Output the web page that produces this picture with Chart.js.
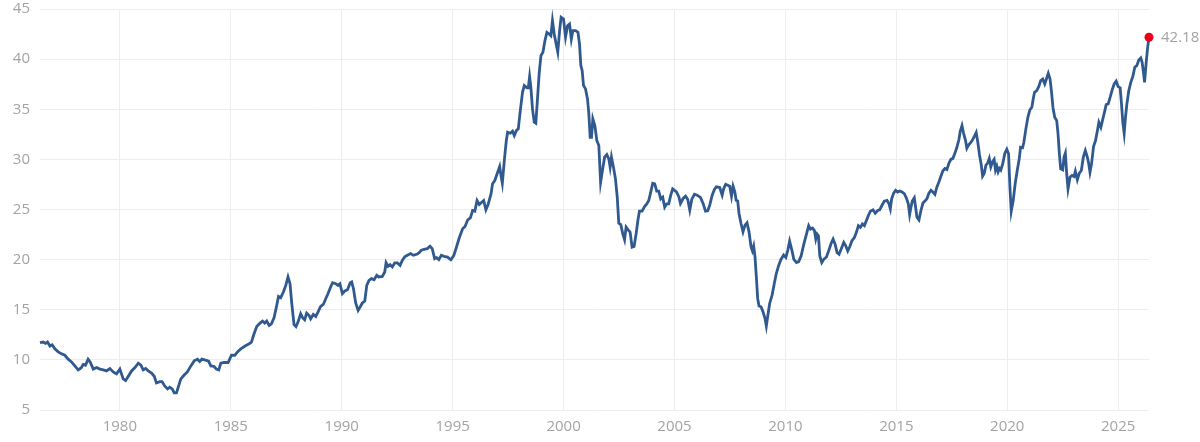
<!DOCTYPE html>
<html>
<head>
<meta charset="utf-8">
<script src="https://cdn.jsdelivr.net/npm/chart.js@4"></script>
<style>
  html, body { margin: 0; padding: 0; background: #fff; overflow: hidden; }
  #wrap { width: 1200px; height: 452px; margin-top: -10px; }
</style>
</head>
<body>
<div id="wrap"><canvas id="myLineChart"></canvas></div>
<script>
// 年（小数）
var years = [
  1976.40, 1976.55, 1976.65, 1976.74, 1976.85, 1976.95, 1977.07, 1977.22, 1977.37, 1977.52,
  1977.67, 1977.82, 1977.97, 1978.12, 1978.25, 1978.35, 1978.45, 1978.57, 1978.66, 1978.80,
  1978.95, 1979.10, 1979.25, 1979.40, 1979.55, 1979.70, 1979.85, 1980.00, 1980.15, 1980.26,
  1980.38, 1980.53, 1980.68, 1980.83, 1980.95, 1981.05, 1981.16, 1981.28, 1981.43, 1981.55,
  1981.65, 1981.80, 1981.90, 1982.03, 1982.15, 1982.25, 1982.36, 1982.45, 1982.55, 1982.63,
  1982.75, 1982.90, 1983.05, 1983.20, 1983.35, 1983.50, 1983.60, 1983.70, 1983.86, 1984.00,
  1984.10, 1984.25, 1984.35, 1984.46, 1984.55, 1984.70, 1984.88, 1985.03, 1985.18, 1985.30,
  1985.45, 1985.68, 1985.83, 1985.93, 1986.05, 1986.17, 1986.32, 1986.43, 1986.53, 1986.62,
  1986.73, 1986.83, 1986.95, 1987.07, 1987.15, 1987.25, 1987.37, 1987.48, 1987.58, 1987.67,
  1987.75, 1987.85, 1987.94, 1988.03, 1988.15, 1988.24, 1988.33, 1988.42, 1988.53, 1988.60,
  1988.72, 1988.83, 1988.93, 1989.05, 1989.17, 1989.28, 1989.38, 1989.50, 1989.59, 1989.73,
  1989.83, 1989.92, 1990.03, 1990.14, 1990.26, 1990.38, 1990.45, 1990.53, 1990.63, 1990.74,
  1990.83, 1990.93, 1991.04, 1991.13, 1991.23, 1991.34, 1991.46, 1991.58, 1991.68, 1991.83,
  1991.94, 1992.00, 1992.09, 1992.18, 1992.28, 1992.39, 1992.51, 1992.63, 1992.73, 1992.84,
  1992.96, 1993.11, 1993.23, 1993.38, 1993.48, 1993.59, 1993.71, 1993.86, 1993.98, 1994.08,
  1994.19, 1994.28, 1994.38, 1994.49, 1994.61, 1994.77, 1994.92,
  1995.05, 1995.15, 1995.30, 1995.45, 1995.56, 1995.68, 1995.80, 1995.90, 1996.00, 1996.10,
  1996.20, 1996.31, 1996.40, 1996.50, 1996.60, 1996.73, 1996.80, 1996.90, 1997.03, 1997.12,
  1997.18, 1997.24, 1997.33, 1997.42, 1997.48, 1997.60, 1997.70, 1997.78, 1997.87, 1997.96,
  1998.05, 1998.15, 1998.23, 1998.35, 1998.41, 1998.47, 1998.53, 1998.60, 1998.68, 1998.75,
  1998.83, 1998.90, 1998.98, 1999.07, 1999.16, 1999.25, 1999.35, 1999.43, 1999.50, 1999.58,
  1999.65, 1999.74, 1999.82, 1999.89,
  2000.00, 2000.09, 2000.18, 2000.27, 2000.35, 2000.42, 2000.54, 2000.65, 2000.72, 2000.78,
  2000.84, 2000.90, 2000.99, 2001.08, 2001.14, 2001.20, 2001.26, 2001.32, 2001.41, 2001.50,
  2001.59, 2001.67, 2001.74, 2001.85, 2001.95, 2002.04, 2002.10, 2002.16, 2002.25, 2002.34,
  2002.42, 2002.49, 2002.58, 2002.67, 2002.75, 2002.82, 2002.91, 2003.00, 2003.09, 2003.18,
  2003.27, 2003.35, 2003.42, 2003.54, 2003.65, 2003.75, 2003.84, 2003.93, 2004.02, 2004.11,
  2004.20, 2004.29, 2004.38, 2004.47, 2004.56, 2004.65, 2004.74, 2004.83, 2004.92,
  2005.09, 2005.20, 2005.27, 2005.39, 2005.50, 2005.60, 2005.69, 2005.78, 2005.90, 2006.02,
  2006.17, 2006.29, 2006.40, 2006.50, 2006.59, 2006.70, 2006.80, 2006.89, 2007.04, 2007.15,
  2007.22, 2007.31, 2007.40, 2007.49, 2007.57, 2007.64, 2007.72, 2007.78, 2007.85, 2007.91,
  2008.00, 2008.09, 2008.18, 2008.27, 2008.36, 2008.45, 2008.51, 2008.57, 2008.63, 2008.69,
  2008.75, 2008.81, 2008.90, 2008.99, 2009.08, 2009.14, 2009.20, 2009.29, 2009.40, 2009.50,
  2009.59, 2009.70, 2009.80, 2009.92, 2010.02, 2010.11, 2010.19,
  2010.30, 2010.38, 2010.50, 2010.60, 2010.71, 2010.83, 2010.95, 2011.05, 2011.13, 2011.22,
  2011.31, 2011.37, 2011.43, 2011.49, 2011.55, 2011.64, 2011.73, 2011.85, 2011.95, 2012.06,
  2012.15, 2012.24, 2012.33, 2012.42, 2012.51, 2012.63, 2012.72, 2012.81, 2012.90, 2013.00,
  2013.11, 2013.20, 2013.29, 2013.38, 2013.47, 2013.56, 2013.65, 2013.74, 2013.83, 2013.95,
  2014.05, 2014.16, 2014.25, 2014.35, 2014.46, 2014.58, 2014.67, 2014.73, 2014.79, 2014.88,
  2014.97, 2015.06, 2015.15, 2015.26, 2015.36, 2015.45, 2015.54, 2015.60, 2015.66, 2015.72,
  2015.81, 2015.87, 2015.93, 2016.02, 2016.11, 2016.20, 2016.29, 2016.38, 2016.47, 2016.56,
  2016.65, 2016.74, 2016.83, 2016.92, 2017.01, 2017.10, 2017.19, 2017.28, 2017.37, 2017.46,
  2017.55, 2017.64, 2017.73, 2017.82, 2017.88, 2017.96, 2018.03, 2018.12, 2018.18, 2018.26,
  2018.33, 2018.42, 2018.51, 2018.60, 2018.68, 2018.75, 2018.83, 2018.89, 2018.96, 2019.04,
  2019.11, 2019.19, 2019.26, 2019.34, 2019.41, 2019.47, 2019.53, 2019.59, 2019.65, 2019.71,
  2019.80, 2019.89, 2019.98,
  2020.06, 2020.12, 2020.18, 2020.27, 2020.36, 2020.45, 2020.54, 2020.60, 2020.69, 2020.75,
  2020.84, 2020.93, 2021.02, 2021.11, 2021.17, 2021.23, 2021.33, 2021.42, 2021.51, 2021.60,
  2021.69, 2021.78, 2021.85, 2021.93, 2021.99, 2022.06, 2022.14, 2022.23, 2022.29, 2022.35,
  2022.41, 2022.50, 2022.56, 2022.62, 2022.68, 2022.74, 2022.83, 2022.92, 2023.01, 2023.07,
  2023.16, 2023.25, 2023.34, 2023.43, 2023.52, 2023.61, 2023.67, 2023.73, 2023.80, 2023.89,
  2023.98, 2024.07, 2024.13, 2024.22, 2024.31, 2024.40, 2024.46, 2024.55, 2024.64, 2024.73,
  2024.82, 2024.91, 2025.00, 2025.09, 2025.15, 2025.21, 2025.27, 2025.33, 2025.39, 2025.48,
  2025.57, 2025.66, 2025.75, 2025.84, 2025.93, 2026.02, 2026.08, 2026.14, 2026.19, 2026.27,
  2026.33, 2026.39
];

// 値
var values = [
  11.71, 11.78, 11.64, 11.78, 11.38, 11.50, 11.10, 10.80, 10.60, 10.46,
  10.07, 9.80, 9.40, 9.00, 9.20, 9.54, 9.47, 10.07, 9.80, 9.08,
  9.24, 9.08, 9.00, 8.90, 9.14, 8.80, 8.60, 9.08, 8.10, 7.93,
  8.36, 8.90, 9.24, 9.67, 9.47, 9.00, 9.14, 8.90, 8.68, 8.36,
  7.70, 7.83, 7.83, 7.37, 7.10, 7.27, 7.10, 6.70, 6.70, 7.27,
  8.10, 8.49, 8.82, 9.40, 9.90, 10.07, 9.84, 10.07, 9.97, 9.87,
  9.40, 9.34, 9.08, 9.00, 9.67, 9.74, 9.74, 10.46, 10.46, 10.80,
  11.10, 11.43, 11.60, 11.77, 12.60, 13.33, 13.67, 13.87, 13.67, 13.87,
  13.43, 13.60, 14.20, 15.43, 16.33, 16.20, 16.77, 17.43, 18.27, 17.60,
  15.60, 13.53, 13.33, 13.77, 14.60, 14.20, 14.00, 14.67, 14.43, 14.10,
  14.53, 14.33, 14.77, 15.33, 15.53, 16.10, 16.60, 17.27, 17.70, 17.60,
  17.43, 17.60, 16.60, 16.87, 17.00, 17.67, 17.77, 17.10, 15.67, 14.93,
  15.27, 15.67, 15.87, 17.43, 17.93, 18.10, 18.00, 18.43, 18.27, 18.33,
  18.77, 19.70, 19.33, 19.50, 19.27, 19.67, 19.67, 19.43, 19.93, 20.27,
  20.43, 20.60, 20.43, 20.53, 20.67, 20.93, 21.03, 21.10, 21.33, 21.10,
  20.10, 20.20, 20.00, 20.43, 20.33, 20.25, 19.98,
  20.40, 21.08, 22.18, 23.07, 23.30, 23.97, 24.17, 24.90, 24.83, 25.90,
  25.50, 25.73, 25.90, 24.97, 25.50, 26.56, 27.56, 27.89, 28.72, 29.29,
  28.39, 27.62, 29.88, 31.88, 32.71, 32.61, 32.81, 32.38, 32.87, 33.04,
  34.87, 36.69, 37.36, 37.13, 37.13, 38.26, 37.13, 35.03, 33.70, 33.60,
  36.20, 38.52, 40.35, 40.68, 41.84, 42.67, 42.51, 42.34, 43.84, 42.51,
  41.68, 40.70, 42.80, 44.17,
  44.00, 42.20, 43.34, 43.50, 42.00, 42.84, 42.84, 42.67, 41.50, 39.35,
  38.85, 37.36, 37.03, 36.03, 34.53, 32.20, 32.20, 34.04, 33.37, 31.88,
  31.38, 27.72, 28.72, 30.22, 30.48, 30.05, 29.22, 30.22, 29.22, 28.06,
  26.23, 23.64, 23.50, 22.57, 21.98, 23.24, 22.97, 22.74, 21.25, 21.31,
  22.57, 23.90, 24.83, 24.83, 25.30, 25.56, 25.90, 26.73, 27.62, 27.56,
  26.83, 26.83, 26.06, 26.23, 25.23, 25.56, 25.56, 26.40, 27.06,
  26.76, 26.26, 25.60, 26.10, 26.33, 26.00, 24.93, 26.00, 26.53, 26.43,
  26.20, 25.60, 24.83, 24.87, 25.43, 26.43, 27.00, 27.26, 27.19, 26.43,
  27.09, 27.52, 27.43, 27.33, 26.33, 27.33, 26.76, 25.93, 25.86, 24.60,
  23.60, 22.77, 23.44, 23.67, 22.77, 21.28, 20.88, 21.35, 20.28, 18.29,
  16.13, 15.37, 15.30, 14.80, 14.14, 13.37, 14.30, 15.63, 16.46, 17.62,
  18.62, 19.45, 20.02, 20.45, 20.22, 20.95, 21.85,
  20.87, 20.03, 19.70, 19.80, 20.37, 21.54, 22.55, 23.39, 23.05, 23.15,
  22.89, 22.05, 22.55, 22.38, 20.37, 19.70, 20.03, 20.27, 20.87, 21.61,
  22.05, 21.54, 20.70, 20.54, 21.04, 21.71, 21.38, 20.87, 21.28, 21.88,
  22.21, 22.72, 23.39, 23.22, 23.56, 23.39, 23.89, 24.40, 24.83, 24.97,
  24.63, 24.90, 24.97, 25.40, 25.84, 25.91, 25.57, 25.07, 26.07, 26.64,
  26.91, 26.74, 26.85, 26.74, 26.58, 26.17, 25.57, 24.50, 25.23, 25.84,
  26.17, 25.23, 24.23, 23.96, 24.90, 25.64, 25.84, 26.07, 26.64, 26.91,
  26.74, 26.51, 27.25, 27.75, 28.32, 28.86, 29.09, 28.99, 29.60, 30.00,
  30.10, 30.60, 31.21, 31.95, 32.79, 33.36, 32.62, 31.88, 31.11, 31.44,
  31.61, 31.88, 32.28, 32.68, 31.61, 30.44, 29.43, 28.32, 28.59, 29.43,
  29.60, 30.10, 29.26, 29.77, 30.00, 28.93, 29.33, 28.76, 29.09, 28.93,
  29.60, 30.60, 31.01,
  30.55, 27.23, 24.83, 25.90, 27.62, 28.89, 30.05, 31.21, 31.15, 31.71,
  33.04, 34.20, 34.93, 35.20, 36.03, 36.69, 36.86, 37.26, 37.86, 38.02,
  37.52, 38.12, 38.59, 38.02, 36.86, 35.20, 34.20, 33.87, 32.54, 30.55,
  29.05, 28.95, 30.22, 30.62, 28.55, 27.06, 28.22, 28.39, 28.29, 28.82,
  27.96, 28.62, 28.89, 30.22, 30.88, 30.22, 29.62, 28.72, 29.55, 31.28,
  31.88, 32.94, 33.70, 33.20, 34.04, 34.87, 35.47, 35.53, 36.20, 36.93,
  37.52, 37.79, 37.26, 37.13, 35.53, 33.70, 32.61, 34.20, 35.47, 36.86,
  37.69, 38.26, 39.19, 39.35, 39.92, 40.12, 39.68, 38.69, 37.69, 39.85,
  41.18, 42.18
];

// 目盛り
var xTicks = [1980, 1985, 1990, 1995, 2000, 2005, 2010, 2015, 2020, 2025];
var yTicks = [5, 10, 15, 20, 25, 30, 35, 40, 45];

var lastIndex = values.length - 1;
var lineColor = "#30598f";
var labelColor = "#a3a3a3";
var gridColor = "#ededed";

// 最新値のラベル
var lastLabel = {
  id: "lastLabel",
  afterDatasetsDraw: function (chart) {
    var meta = chart.getDatasetMeta(0);
    var pt = meta.data[lastIndex];
    var c = chart.ctx;
    c.save();
    c.font = "15px 'Open Sans', sans-serif";
    c.fillStyle = labelColor;
    c.textAlign = "left";
    c.textBaseline = "middle";
    c.fillText(values[lastIndex].toFixed(2), pt.x + 12, pt.y);
    c.restore();
  }
};

var points = years.map(function (y, i) { return { x: y, y: values[i] }; });

new Chart(document.getElementById("myLineChart"), {
  type: "line",
  data: {
    datasets: [{
      data: points,
      borderColor: lineColor,
      borderWidth: 2.8,
      tension: 0,
      clip: false,
      pointRadius: values.map(function (v, i) { return i === lastIndex ? 4.5 : 0; }),
      pointBackgroundColor: "#e8001c",
      pointBorderWidth: 0,
      pointHoverRadius: 0
    }]
  },
  options: {
    responsive: true,
    maintainAspectRatio: false,
    animation: false,
    events: [],
    layout: { padding: { top: 0, right: 51, left: 0, bottom: 0 } },
    plugins: { legend: { display: false }, tooltip: { enabled: false } },
    scales: {
      x: {
        type: "linear",
        min: years[0],
        max: years[lastIndex],
        afterBuildTicks: function (axis) {
          axis.ticks = xTicks.map(function (v) { return { value: v }; });
        },
        afterFit: function (axis) { axis.height = 32; },
        border: { display: false },
        grid: { color: gridColor, drawTicks: false },
        ticks: {
          padding: 8,
          color: labelColor,
          font: { family: "'Open Sans', sans-serif", size: 15 },
          maxRotation: 0,
          callback: function (v) { return String(v); }
        }
      },
      y: {
        min: 5,
        max: 45,
        afterBuildTicks: function (axis) {
          axis.ticks = yTicks.map(function (v) { return { value: v }; });
        },
        afterFit: function (axis) { axis.width = 40; },
        border: { display: false },
        grid: { color: gridColor, drawTicks: false },
        ticks: {
          padding: 10,
          color: labelColor,
          font: { family: "'Open Sans', sans-serif", size: 15 }
        }
      }
    }
  },
  plugins: [lastLabel]
});
</script>
</body>
</html>
